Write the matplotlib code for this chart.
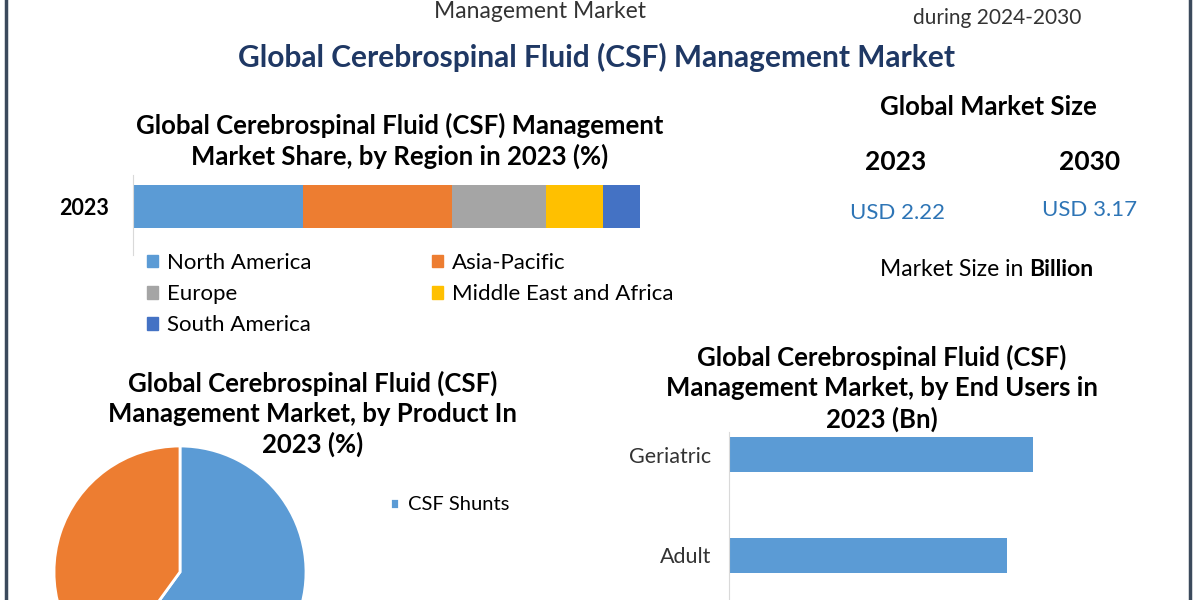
import numpy as np
import matplotlib.pyplot as plt
from matplotlib.lines import Line2D
from matplotlib.patches import Patch

plt.rcParams['font.family'] = ['Lato', 'DejaVu Sans']

# data
regions = ['North America', 'Asia-Pacific', 'Europe', 'Middle East and Africa', 'South America']
region_share = [33.5, 29.5, 18.5, 11.3, 7.2]
region_colors = ['#5b9bd5', '#ed7d31', '#a5a5a5', '#ffc000', '#4472c4']
region_year = '2023'

products = ['CSF Shunts', 'CSF Drainage Systems']
product_share = [60, 40]
product_colors = ['#5b9bd5', '#ed7d31']

end_users = ['Geriatric', 'Adult']
end_user_values = [1.15, 1.05]

size_years = ['2023', '2030']
size_values = ['USD 2.22', 'USD 3.17']

W, H = 1200, 600
fig = plt.figure(figsize=(12, 6), dpi=100)
fig.patch.set_facecolor('white')


def box(x0, y0, x1, y1):
    # pixel box (top-left origin) -> figure fraction
    return [x0 / W, 1 - y1 / H, (x1 - x0) / W, (y1 - y0) / H]


def ftext(x, y, s, **kw):
    kw.setdefault('ha', 'center')
    kw.setdefault('va', 'center')
    return fig.text(x / W, 1 - y / H, s, **kw)


# frame lines
for xp in (6, 1190):
    fig.add_artist(Line2D([xp / W, xp / W], [0, 1], color='#3b4a5c', lw=2.5))

# top texts (cut off in the original)
ftext(540, 11, 'Management Market', fontsize=16.5, color='#333333')
ftext(997, 18, 'during 2024-2030', fontsize=15, color='#333333')
ftext(597, 57, 'Global Cerebrospinal Fluid (CSF) Management Market',
      fontsize=21.5, fontweight='bold', color='#1f3864')

# ---- region share stacked bar
ax1 = fig.add_axes(box(133, 175, 640, 255))
left = 0
for name, v, c in zip(regions, region_share, region_colors):
    ax1.barh(0, v, left=left, height=0.54, color=c, label=name)
    left += v
ax1.set_xlim(0, 100)
ax1.set_ylim(-0.61, 0.39)
for s in ['top', 'right', 'bottom']:
    ax1.spines[s].set_visible(False)
ax1.spines['left'].set_color('#d9d9d9')
ax1.set_xticks([])
ax1.set_yticks([0], [region_year])
ax1.tick_params(axis='y', length=0, pad=17, labelsize=15.5)
for t in ax1.get_yticklabels():
    t.set_fontweight('bold')

order = [0, 2, 4, 1, 3]
handles = [Patch(color=region_colors[i]) for i in order]
fig.legend(handles, [regions[i] for i in order], ncol=2, frameon=False,
           loc='upper left', bbox_to_anchor=(147 / W, 1 - 253 / H),
           fontsize=16, handlelength=0.5, handleheight=0.5, handletextpad=0.4,
           columnspacing=5.4, labelspacing=0.5, borderaxespad=0, borderpad=0)

ftext(400, 141, 'Global Cerebrospinal Fluid (CSF) Management\nMarket Share, by Region in 2023 (%)',
      fontsize=18.5, fontweight='bold', linespacing=1.25)

# ---- market size panel
ftext(988, 107, 'Global Market Size', fontsize=18.5, fontweight='bold')
for x, yr in zip([896, 1090], size_years):
    ftext(x, 162, yr, fontsize=19, fontweight='bold')
for x, y, v in zip([898, 1090], [213, 210], size_values):
    ftext(x, y, v, fontsize=16, color='#2e75b6')
ftext(1029, 270, 'Market Size in ', ha='right', fontsize=16.5)
ftext(1029, 270, 'Billion', ha='left', fontsize=16.5, fontweight='bold')

# ---- product pie
ax2 = fig.add_axes(box(54, 446, 306, 698))
wedges, _ = ax2.pie(product_share, colors=product_colors, startangle=90,
                    counterclock=False, wedgeprops=dict(edgecolor='white', linewidth=2))
ax2.set_xlim(-1, 1)
ax2.set_ylim(-1, 1)
fig.legend(wedges[:1], products[:1], frameon=False, loc='center left',
           bbox_to_anchor=(390 / W, 1 - 505 / H), fontsize=14.5,
           handlelength=0.45, handleheight=0.45, handletextpad=0.45,
           borderaxespad=0, borderpad=0)
ftext(313, 414, 'Global Cerebrospinal Fluid (CSF)\nManagement Market, by Product In\n2023 (%)',
      fontsize=18.5, fontweight='bold', linespacing=1.28)

# ---- end users bar
ax3 = fig.add_axes(box(729, 432, 1099, 650))
ypos = np.arange(len(end_users))[::-1] + 1
ax3.barh(ypos, end_user_values, height=0.35, color='#5b9bd5')
ax3.set_xlim(0, 1.4)
ax3.set_ylim(0.064, 2.223)
for s in ['top', 'right', 'bottom']:
    ax3.spines[s].set_visible(False)
ax3.spines['left'].set_color('#d9d9d9')
ax3.set_xticks([])
ax3.set_yticks(ypos, end_users)
ax3.tick_params(axis='y', length=0, pad=13, labelsize=15.5, labelcolor='#333333')
ftext(882, 388, 'Global Cerebrospinal Fluid (CSF)\nManagement Market, by End Users in\n2023 (Bn)',
      fontsize=18.5, fontweight='bold', linespacing=1.3)

fig.savefig('out.png', dpi=100, facecolor='white')
